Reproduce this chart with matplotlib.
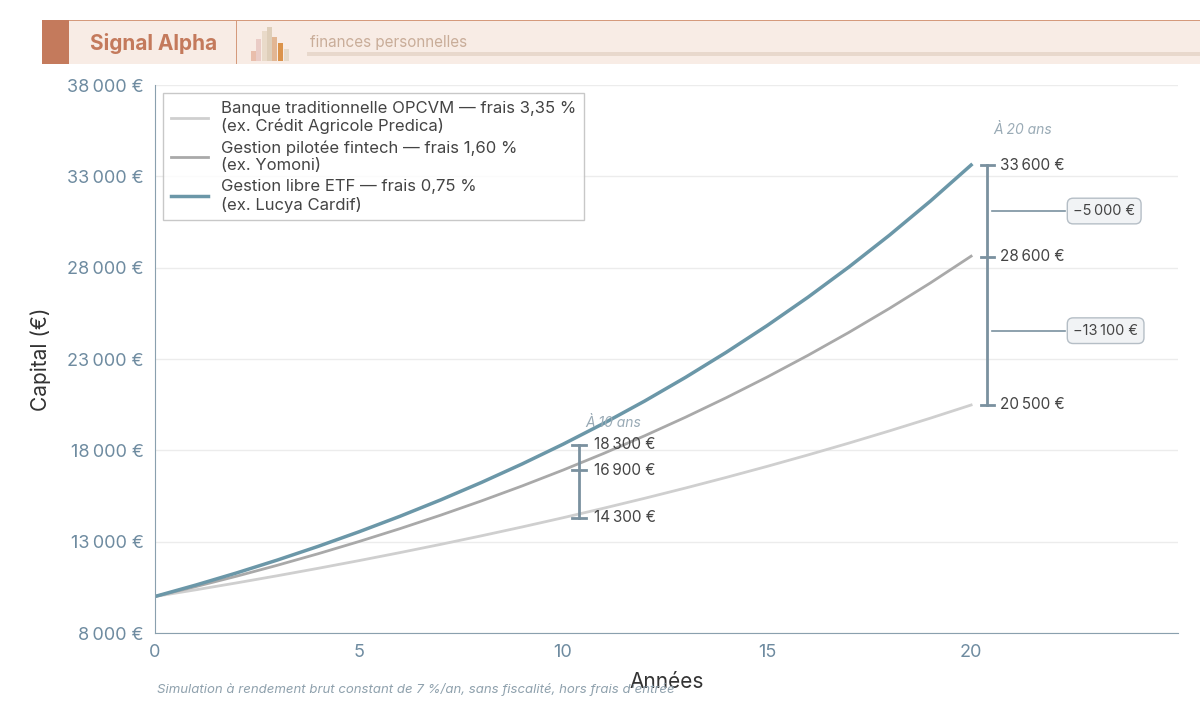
import matplotlib.pyplot as plt
from matplotlib.patches import Rectangle

plt.rcParams['font.family'] = ['Inter', 'DejaVu Sans']

years = list(range(21))
banque = [10000, 10365, 10743, 11135, 11542, 11963, 12400, 12852, 13321, 13807, 14311,
          14834, 15375, 15936, 16518, 17121, 17746, 18393, 19065, 19760, 20482]
fintech = [10000, 10540, 11109, 11709, 12341, 13008, 13710, 14450, 15231, 16053, 16920,
           17834, 18797, 19812, 20882, 22009, 23198, 24450, 25771, 27162, 28629]
etf = [10000, 10625, 11289, 11995, 12744, 13541, 14387, 15286, 16242, 17257, 18335,
       19481, 20699, 21993, 23367, 24828, 26379, 28028, 29780, 31641, 33619]
at10 = [14300, 16900, 18300]
at20 = [20500, 28600, 33600]
gaps = ['−5\u202f000 €', '−13\u202f100 €']
yticks = [8000, 13000, 18000, 23000, 28000, 33000, 38000]

tick_c = '#6e8ba0'
brk_c = '#7a919f'


def eur(v):
    return f'{v:,}'.replace(',', '\u202f') + ' €'


fig = plt.figure(figsize=(12, 7.21), dpi=100)
ax = fig.add_axes([155/1200, 1-633/721, (1178-155)/1200, (633-85)/721])

ax.plot(years, banque, color='#cfcfcf', lw=2, label='Banque traditionnelle OPCVM — frais 3,35 %\n(ex. Crédit Agricole Predica)')
ax.plot(years, fintech, color='#a9a9a9', lw=2, label='Gestion pilotée fintech — frais 1,60 %\n(ex. Yomoni)')
ax.plot(years, etf, color='#6b97a8', lw=2.5, label='Gestion libre ETF — frais 0,75 %\n(ex. Lucya Cardif)')

ax.set_xlim(0, 25.07)
ax.set_ylim(8000, 38000)
ax.set_xticks([0, 5, 10, 15, 20])
ax.set_yticks(yticks)
ax.set_yticklabels([eur(v) for v in yticks])
ax.tick_params(colors=tick_c, labelsize=13, length=0, pad=8)
ax.grid(axis='y', color='#ececec', lw=1)
ax.set_axisbelow(True)
for s in ['top', 'right']:
    ax.spines[s].set_visible(False)
for s in ['left', 'bottom']:
    ax.spines[s].set_color('#8aa0ae')
ax.set_xlabel('Années', fontsize=15, color='#333333', labelpad=8)
ax.set_ylabel('Capital (€)', fontsize=15, color='#333333', labelpad=12)

leg = ax.legend(loc='upper left', fontsize=12, frameon=True, fancybox=False,
                edgecolor='#bbbbbb', borderpad=0.45, handlelength=2.2, labelspacing=0.35)
for t in leg.get_texts():
    t.set_color('#444444')


def bracket(x, vals, dx, fs):
    ax.plot([x, x], [vals[0], vals[-1]], color=brk_c, lw=2)
    for v in vals:
        ax.plot([x - 0.17, x + 0.17], [v, v], color=brk_c, lw=2)
        ax.text(x + dx, v, eur(v), fontsize=fs, color='#444444', va='center')


bracket(10.4, at10, 0.35, 11)
ax.text(10.55, 19300, 'À 10 ans', fontsize=10, style='italic', color='#9aabb6')
bracket(20.4, at20, 0.32, 11)
ax.text(20.55, 35300, 'À 20 ans', fontsize=10, style='italic', color='#9aabb6')

mids = [(at20[2] + at20[1]) / 2, (at20[1] + at20[0]) / 2]
for m, g in zip(mids, gaps):
    ax.plot([20.5, 22.3], [m, m], color=brk_c, lw=1.2)
    ax.text(22.5, m, g, fontsize=10.5, color='#444444', va='center',
            bbox=dict(boxstyle='round,pad=0.4', fc='#f1f3f5', ec='#b5bec6'))

# header band
fig.patches.append(Rectangle((42/1200, 1-64/721), 1158/1200, 44/721, transform=fig.transFigure,
                             fc='#f8ece5', ec='none'))
fig.patches.append(Rectangle((42/1200, 1-21/721), 1158/1200, 1.5/721, transform=fig.transFigure,
                             fc='#d59a7c', ec='none'))
fig.patches.append(Rectangle((42/1200, 1-64/721), 27/1200, 44/721, transform=fig.transFigure,
                             fc='#c47a5c', ec='none'))
fig.patches.append(Rectangle((236/1200, 1-64/721), 1.2/1200, 44/721, transform=fig.transFigure,
                             fc='#d59a7c', ec='none'))
fig.patches.append(Rectangle((307/1200, 1-56/721), 893/1200, 4/721, transform=fig.transFigure,
                             fc='#e8d8cc', ec='none'))
bars_x = [251, 256, 262, 267, 272, 278, 284]
bars_h = [10, 22, 30, 34, 24, 18, 12]
bars_c = ['#e8b9a6', '#e9c9c3', '#e8d8c6', '#dccbb5', '#e0b08a', '#d8893a', '#e4d8c8']
for bx, bh, bc in zip(bars_x, bars_h, bars_c):
    fig.patches.append(Rectangle((bx/1200, 1-61/721), 5/1200, bh/721, transform=fig.transFigure,
                                 fc=bc, ec='none', alpha=0.9))
fig.text(90/1200, 1-43/721, 'Signal Alpha', fontsize=15, weight='bold', color='#c47a5c', va='center')
fig.text(310/1200, 1-43/721, 'finances personnelles', fontsize=11, color='#c9ad99', va='center')

fig.text(157/1200, 1-690/721, "Simulation à rendement brut constant de 7 %/an, sans fiscalité, hors frais d'entrée",
         fontsize=9.5, style='italic', color='#8fa1ad', va='center')

fig.savefig('out.png', dpi=100, facecolor='white')
